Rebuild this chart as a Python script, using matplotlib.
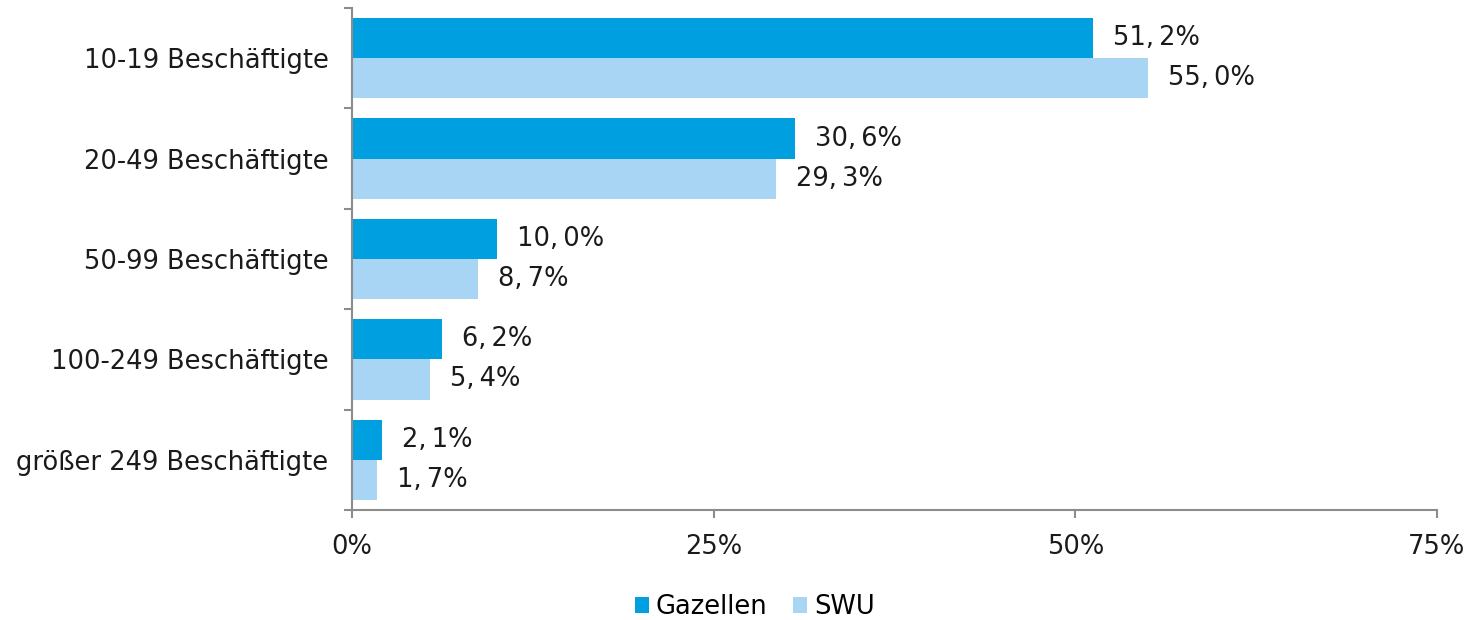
import matplotlib
matplotlib.use("Agg")
import matplotlib.pyplot as plt
import numpy as np

categories = ["10-19 Beschäftigte", "20-49 Beschäftigte", "50-99 Beschäftigte",
              "100-249 Beschäftigte", "größer 249 Beschäftigte"]
gazellen = [51.2, 30.6, 10.0, 6.2, 2.1]
swu = [55.0, 29.3, 8.7, 5.4, 1.7]
xticks = [0, 25, 50, 75]
xticklabels = ["0%", "25%", "50%", "75%"]

c_gaz = "#009FE0"
c_swu = "#A9D5F5"
grey = "#8C8C8C"
fs = 18.5

plt.rcParams['font.family'] = ['DejaVu Sans']
fig = plt.figure(figsize=(14.73, 6.2), dpi=100)
ax = fig.add_axes([352/1473, 1-510/620, (1437-352)/1473, (510-8)/620])

y = np.arange(len(categories))
h = 0.4
b1 = ax.barh(y - h/2, gazellen, height=h, color=c_gaz, label="Gazellen")
b2 = ax.barh(y + h/2, swu, height=h, color=c_swu, label="SWU")

def fmt(v):
    return f"{v:.1f}".replace(".", ",\u2009") + "%"

for bars, vals in ((b1, gazellen), (b2, swu)):
    for bar, v in zip(bars, vals):
        ax.annotate(fmt(v), (v, bar.get_y() + bar.get_height()/2),
                    xytext=(20, 0), textcoords="offset pixels",
                    ha="left", va="center", fontsize=fs, color="#1a1a1a")

ax.set_xlim(0, 75)
ax.set_ylim(4.5, -0.5)
ax.set_xticks(xticks)
ax.set_xticklabels(xticklabels, fontsize=fs, color="#1a1a1a")
ax.set_yticks(np.arange(-0.5, len(categories), 1.0))
ax.set_yticklabels([])
ax.set_yticks(y, minor=True)
ax.set_yticklabels(categories, minor=True, fontsize=fs, color="#1a1a1a")
ax.tick_params(axis="y", which="minor", length=0, pad=17)
ax.tick_params(axis="y", which="major", length=6, width=1.5, color=grey, direction="out")
ax.tick_params(axis="x", length=6, width=1.5, color=grey, direction="out", pad=11)

for s in ["top", "right"]:
    ax.spines[s].set_visible(False)
for s in ["left", "bottom"]:
    ax.spines[s].set_color(grey)
    ax.spines[s].set_linewidth(1.5)

leg = fig.legend(handles=[b1, b2], labels=["Gazellen", "SWU"], loc="center",
                 bbox_to_anchor=(755/1473, 1-607/620), ncol=2, frameon=False,
                 fontsize=fs, handlelength=0.55, handleheight=0.55, handletextpad=0.25,
                 columnspacing=1.0)

fig.savefig("out.png", dpi=100)
